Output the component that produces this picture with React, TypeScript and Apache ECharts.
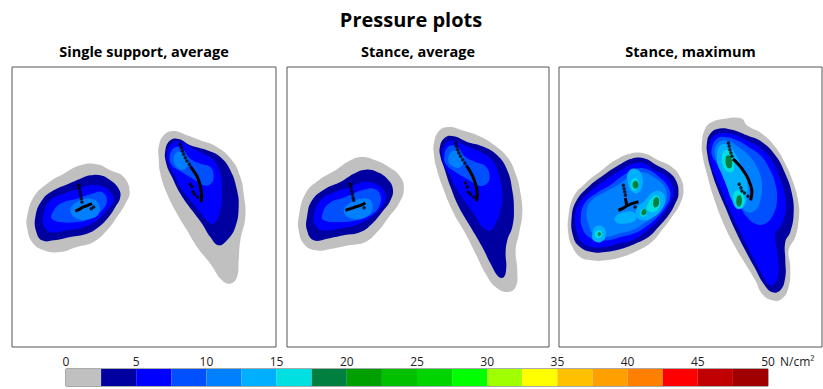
import React, { useEffect, useRef } from 'react';
import * as echarts from 'echarts';

const chartTitle = 'Pressure plots';
const panelTitles = ['Single support, average', 'Stance, average', 'Stance, maximum'];
const unitLabel = 'N/cm²';

// 20 pressure bins of 2.5 N/cm² from 0 to 50
const colorScale = [
  '#c0c0c0', '#0000a0', '#0000ff', '#0050ff', '#0080ff', '#00b0ff', '#00e0e0', '#008040',
  '#00a000', '#00c000', '#00d400', '#00ff00', '#a0ff00', '#ffff00', '#ffc000', '#ffa000',
  '#ff8000', '#ff0000', '#c00000', '#a00000',
];
const scaleMin = 0;
const scaleMax = 50;
const scaleStep = 5;
const binWidth = 2.5;

// sensor-plane extents of each panel [xMin, xMax, yMin, yMax]
const panelExtents = [
  [5, 797, 20, 860],
  [5, 790, 20, 860],
  [12, 800, 20, 860],
];

type Shape = [number, number[]]; // [pressure level index, outline x,y,...]

const p1Shapes: Shape[] = [
  [0, [50,470, 70,410, 110,370, 160,340, 210,315, 260,312, 300,330, 340,350, 358,395, 345,430, 320,470, 290,510, 250,545, 200,560, 150,575, 100,570, 65,545, 50,500]],
  [1, [75,470, 95,420, 130,390, 175,370, 210,355, 240,345, 270,345, 300,360, 325,385, 330,410, 315,440, 295,470, 265,500, 230,520, 180,530, 130,540, 95,540, 78,515]],
  [2, [100,460, 120,420, 160,400, 205,385, 240,375, 275,378, 300,395, 310,420, 290,450, 260,480, 220,500, 170,510, 120,515, 100,495]],
  [3, [125,460, 150,430, 200,415, 245,400, 275,395, 290,420, 275,450, 240,475, 200,485, 150,485, 125,475]],
  [4, [180,450, 200,425, 240,415, 265,430, 265,460, 240,475, 200,475]],
  [0, [445,260, 460,225, 490,212, 530,225, 570,240, 620,260, 665,300, 690,350, 700,400, 705,470, 690,540, 685,600, 680,650, 660,670, 635,660, 600,610, 560,560, 530,510, 500,460, 470,400, 450,340, 445,290]],
  [1, [465,270, 480,240, 505,236, 540,255, 590,270, 630,290, 660,330, 680,390, 685,440, 675,500, 650,540, 625,555, 600,530, 575,490, 545,450, 510,400, 485,350, 468,310]],
  [2, [470,280, 485,250, 510,245, 545,262, 580,280, 610,300, 630,340, 635,400, 630,450, 610,490, 590,480, 565,450, 540,420, 510,380, 490,340, 475,310]],
  [3, [478,290, 492,262, 515,265, 540,295, 570,310, 600,320, 610,350, 600,372, 580,375, 555,360, 530,345, 505,330, 485,315]],
  [4, [490,300, 500,275, 520,280, 535,305, 525,325, 505,325]],
];
const p1Dots = [205,375, 207,385, 209,395, 211,405, 213,415, 215,425, 250,440, 243,445,
  510,252, 513,262, 516,272, 520,282, 525,292, 530,302, 537,312, 540,372, 545,380, 548,394, 553,402, 562,410];
const p1Tracks = [
  [195,452, 205,448, 215,442, 230,436, 245,430],
  [540,318, 552,335, 562,352, 568,370, 572,390, 574,408, 572,425],
];

const p2Shapes: Shape[] = [
  [0, [40,470, 60,400, 100,360, 150,330, 195,300, 230,290, 270,300, 310,320, 345,350, 355,390, 340,430, 310,470, 280,510, 240,545, 190,555, 140,565, 90,570, 55,550, 40,510]],
  [1, [65,470, 80,420, 120,385, 165,365, 205,340, 240,328, 275,335, 305,355, 322,385, 315,420, 290,455, 260,490, 225,515, 175,525, 125,535, 85,540, 65,510]],
  [2, [85,470, 105,420, 150,395, 195,380, 235,365, 270,370, 295,390, 300,420, 280,450, 250,475, 210,495, 160,505, 110,510, 90,495]],
  [3, [110,465, 130,430, 180,410, 230,390, 265,385, 285,405, 280,440, 255,465, 215,480, 160,485, 115,480]],
  [4, [175,455, 190,430, 225,415, 255,420, 260,450, 240,470, 200,475]],
  [0, [445,250, 460,212, 490,200, 530,210, 575,225, 620,250, 665,290, 690,340, 705,400, 710,460, 700,520, 690,570, 695,630, 690,680, 665,695, 630,680, 600,640, 570,580, 540,520, 505,460, 475,390, 452,320, 445,280]],
  [1, [463,260, 478,232, 505,228, 545,245, 590,258, 635,285, 665,330, 680,390, 685,450, 680,500, 665,540, 660,580, 662,620, 655,650, 640,650, 615,610, 590,560, 555,500, 520,440, 495,380, 475,320, 465,290]],
  [2, [470,275, 485,245, 510,242, 545,258, 585,275, 620,300, 640,340, 650,400, 645,450, 630,490, 615,510, 590,500, 565,460, 535,420, 510,380, 490,340, 475,310]],
  [3, [476,290, 490,258, 515,260, 540,290, 570,305, 600,318, 612,350, 602,372, 580,376, 555,362, 530,348, 505,332, 484,315]],
  [4, [488,300, 500,272, 520,276, 535,300, 525,320, 505,320]],
];
const p2Dots = [195,372, 197,382, 199,392, 201,402, 203,412, 205,420, 236,442,
  510,248, 513,258, 516,268, 520,278, 525,288, 531,298, 538,308, 540,368, 545,380, 548,395, 555,402, 565,410];
const p2Tracks = [
  [180,450, 195,445, 210,440, 225,435, 240,428],
  [542,315, 553,332, 562,350, 569,368, 574,390, 575,405, 572,422],
];

const p3Shapes: Shape[] = [
  [0, [40,470, 55,410, 90,370, 140,330, 180,300, 225,280, 270,280, 310,300, 350,320, 375,350, 385,390, 375,430, 350,470, 320,510, 290,545, 250,570, 200,590, 150,600, 110,600, 75,590, 50,555, 40,520]],
  [1, [50,470, 65,420, 100,380, 145,345, 190,315, 230,295, 270,295, 305,315, 340,335, 362,360, 370,400, 360,430, 340,465, 310,500, 280,530, 240,550, 200,565, 150,575, 110,575, 75,560, 55,530]],
  [2, [60,465, 75,425, 110,390, 150,360, 195,330, 235,310, 270,310, 300,330, 330,345, 350,370, 355,400, 345,430, 325,460, 295,495, 265,520, 230,540, 190,550, 150,560, 110,560, 80,545, 65,515]],
  [3, [78,462, 92,425, 125,398, 165,375, 205,345, 242,325, 280,328, 312,350, 338,378, 345,410, 330,442, 305,472, 275,497, 240,518, 198,530, 155,540, 112,536, 85,510]],
  [4, [95,455, 110,420, 150,395, 195,370, 230,345, 260,335, 295,350, 325,375, 335,410, 320,445, 295,470, 265,490, 230,510, 190,520, 150,530, 115,520, 100,490]],
  [5, [220,335, 240,325, 258,340, 262,375, 248,398, 228,392, 218,365]],
  [5, [245,445, 270,420, 295,395, 320,395, 330,420, 318,450, 295,470, 265,480, 245,470]],
  [5, [180,470, 210,455, 240,460, 240,480, 205,490, 182,485]],
  [5, [112,520, 122,498, 145,500, 152,525, 138,545, 115,540]],
  [6, [230,360, 245,355, 252,375, 240,390, 228,382]],
  [6, [285,420, 305,405, 315,420, 310,445, 290,455, 275,445]],
  [6, [255,455, 270,445, 275,460, 262,470]],
  [6, [120,518, 132,510, 142,520, 135,532, 122,530]],
  [7, [235,365, 245,362, 250,378, 240,385, 233,378]],
  [7, [295,420, 305,410, 312,420, 308,438, 297,440]],
  [7, [262,450, 270,446, 274,458, 265,465, 259,460]],
  [7, [128,520, 134,516, 138,522, 132,528]],
  [0, [440,250, 450,205, 470,185, 510,175, 560,175, 575,195, 620,220, 660,260, 690,310, 715,370, 730,430, 730,480, 720,530, 700,570, 705,620, 700,680, 680,715, 650,720, 620,700, 600,660, 570,610, 540,560, 505,490, 475,410, 455,340, 443,290]],
  [1, [455,250, 465,220, 490,205, 530,208, 575,225, 620,245, 660,285, 690,340, 710,400, 715,460, 705,515, 690,545, 690,600, 690,650, 675,690, 650,695, 625,670, 600,625, 570,570, 540,510, 510,440, 485,380, 465,320, 457,285]],
  [2, [462,255, 475,228, 500,218, 535,222, 575,240, 615,262, 650,300, 675,355, 690,410, 690,460, 675,500, 660,520, 665,570, 670,620, 665,660, 645,675, 625,650, 600,605, 575,555, 545,495, 515,430, 490,370, 470,320, 463,285]],
  [3, [470,265, 485,235, 510,230, 545,240, 580,260, 615,285, 640,320, 660,370, 665,420, 655,460, 630,490, 600,490, 575,470, 555,440, 530,400, 505,355, 485,310, 472,290]],
  [4, [478,275, 492,245, 520,242, 550,260, 580,285, 605,320, 620,370, 615,420, 600,450, 575,455, 555,430, 535,395, 510,350, 490,310]],
  [5, [485,290, 495,255, 520,255, 540,280, 560,320, 575,360, 575,410, 565,440, 545,445, 530,420, 515,380, 500,340, 488,315]],
  [6, [500,290, 510,270, 525,275, 535,300, 535,330, 520,335, 505,320]],
  [6, [535,400, 550,390, 565,405, 565,435, 548,442, 537,425]],
  [7, [512,290, 522,285, 530,300, 528,322, 515,320]],
  [7, [545,410, 555,405, 560,420, 555,438, 545,435]],
];
const p3Dots = [205,375, 207,385, 209,395, 211,405, 240,440,
  520,248, 522,258, 524,268, 527,278, 530,288, 552,372, 557,382, 560,392, 568,398, 578,408];
const p3Tracks = [
  [190,450, 202,445, 215,437, 230,430, 250,424],
  [215,437, 213,425, 211,413],
  [533,296, 548,310, 562,328, 575,348, 585,372, 590,395, 586,420],
];

const panelShapes = [p1Shapes, p2Shapes, p3Shapes];
const panelDots = [p1Dots, p2Dots, p3Dots];
const panelTracks = [p1Tracks, p2Tracks, p3Tracks];

const FONT = '"Open Sans", "Noto Sans", sans-serif';

function pairs(flat: number[]): number[][] {
  const out: number[][] = [];
  for (let i = 0; i < flat.length; i += 2) out.push([flat[i], flat[i + 1]]);
  return out;
}

const gridBoxes = [
  { left: 12, top: 67, width: 264, height: 280 },
  { left: 287, top: 67, width: 262, height: 280 },
  { left: 559, top: 67, width: 263, height: 280 },
];

export default function App() {
  const ref = useRef<HTMLDivElement>(null);
  useEffect(() => {
    if (!ref.current) return;
    const chart = echarts.init(ref.current, undefined, { renderer: 'svg' });

    const grids: any[] = gridBoxes.map((g) => ({
      ...g,
      show: true,
      backgroundColor: '#fff',
      borderColor: '#555',
      borderWidth: 1,
      containLabel: false,
    }));
    grids.push({ left: 66, top: 369, width: 702, height: 17, show: true, borderColor: '#555', borderWidth: 1, backgroundColor: 'transparent' });

    const xAxes: any[] = panelExtents.map((e, i) => ({
      type: 'value', gridIndex: i, min: e[0], max: e[1], show: false,
    }));
    const yAxes: any[] = panelExtents.map((e, i) => ({
      type: 'value', gridIndex: i, min: e[2], max: e[3], inverse: true, show: false,
    }));
    xAxes.push({
      type: 'value', gridIndex: 3, min: scaleMin, max: scaleMax, interval: scaleStep, position: 'top',
      axisLine: { show: false }, axisTick: { show: false }, splitLine: { show: false },
      axisLabel: { fontSize: 12, color: '#222', margin: 2, fontFamily: FONT },
    });
    yAxes.push({ type: 'value', gridIndex: 3, min: 0, max: 1, show: false });

    const series: any[] = [];
    panelShapes.forEach((shapes, i) => {
      series.push({
        type: 'custom',
        xAxisIndex: i,
        yAxisIndex: i,
        clip: true,
        data: shapes.map((s, j) => [s[1][0], s[1][1], j]),
        encode: { x: 0, y: 1 },
        renderItem: (params: any, api: any) => {
          const [lvl, flat] = shapes[params.dataIndex];
          const pts = pairs(flat).map((p) => api.coord(p));
          return {
            type: 'polygon',
            shape: { points: pts, smooth: 0.45 },
            style: { fill: colorScale[lvl] },
          };
        },
        silent: true,
      });
      panelTracks[i].forEach((tr) => {
        series.push({
          type: 'line', xAxisIndex: i, yAxisIndex: i, data: pairs(tr), smooth: true,
          showSymbol: false, lineStyle: { color: '#000', width: 3 }, silent: true,
        });
      });
      series.push({
        type: 'scatter', xAxisIndex: i, yAxisIndex: i, data: pairs(panelDots[i]),
        symbolSize: 3.5, itemStyle: { color: '#000' }, silent: true,
      });
    });

    const bins = colorScale.map((_, k) => [k * binWidth, (k + 1) * binWidth, k]);
    series.push({
      type: 'custom', xAxisIndex: 3, yAxisIndex: 3, data: bins, encode: { x: [0, 1] },
      renderItem: (params: any, api: any) => {
        const a = api.coord([api.value(0), 0]);
        const b = api.coord([api.value(1), 1]);
        return {
          type: 'rect',
          shape: { x: a[0], y: b[1], width: b[0] - a[0], height: a[1] - b[1] },
          style: { fill: colorScale[api.value(2)] },
        };
      },
      silent: true,
    });

    const graphics: any[] = [
      {
        type: 'text', x: 411, y: 19,
        style: { text: chartTitle, fontSize: 20, fontWeight: 'bold', fontFamily: FONT, fill: '#000', textAlign: 'center', textVerticalAlign: 'middle' },
      },
      ...panelTitles.map((t, i) => ({
        type: 'text', x: gridBoxes[i].left + gridBoxes[i].width / 2, y: 51,
        style: { text: t, fontSize: 14.5, fontWeight: 'bold', fontFamily: FONT, fill: '#000', textAlign: 'center', textVerticalAlign: 'middle' },
      })),
      {
        type: 'text', x: 780, y: 361,
        style: { text: unitLabel, fontSize: 12, fontFamily: FONT, fill: '#222', textAlign: 'left', textVerticalAlign: 'middle' },
      },
    ];

    chart.setOption({
      animation: false,
      backgroundColor: '#fff',
      grid: grids,
      xAxis: xAxes,
      yAxis: yAxes,
      series,
      graphic: graphics,
    });
    return () => chart.dispose();
  }, []);
  return <div ref={ref} style={{ position: 'fixed', left: 0, top: 0, width: 823, height: 389 }} />;
}
